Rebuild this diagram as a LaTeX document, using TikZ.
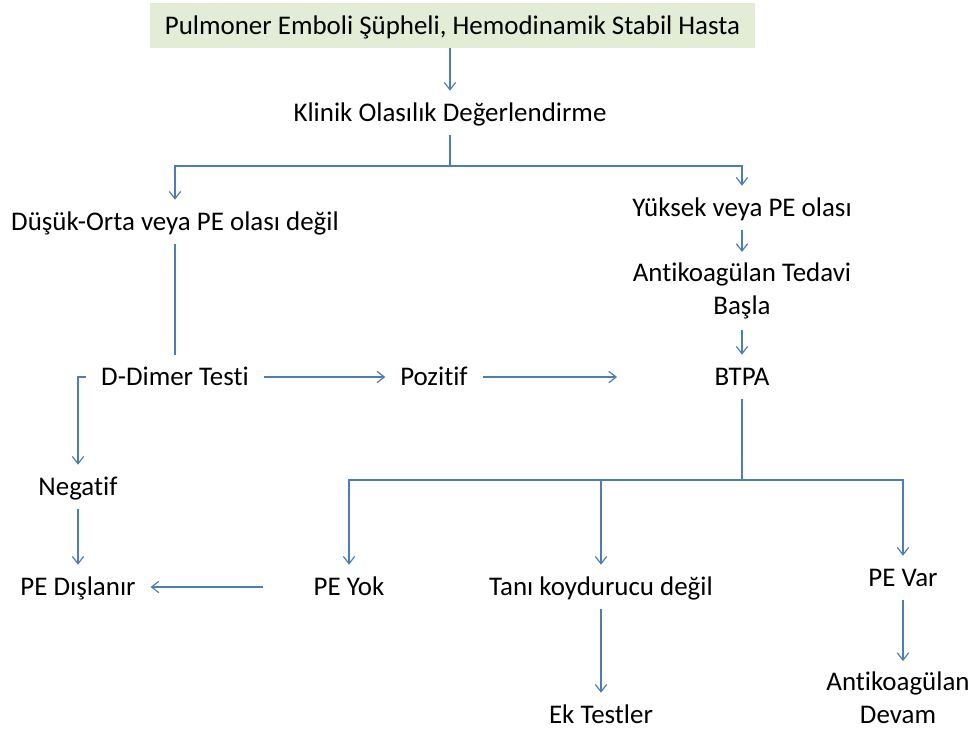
\documentclass[tikz,border=0pt]{standalone}
\usepackage{fontspec}
\setmainfont{Carlito}[RawFeature=-liga]
\usetikzlibrary{arrows.meta,positioning,calc}
\definecolor{FlowBlue}{HTML}{4A7EBB}
\definecolor{StartGreen}{HTML}{E3ECD4}

\begin{document}
\begin{tikzpicture}[
    x=0.75pt, y=-0.75pt,
    lbl/.style={
      font=\fontsize{20.2}{24.75}\selectfont,
      inner xsep=11pt,
      inner ysep=7pt,
      text height=16pt,
      text depth=3pt,
      align=center
    },
    twoline/.style={
      lbl,
      inner ysep=8pt,
      text height={},
      text depth={}
    },
    startbox/.style={
      lbl,
      fill=StartGreen,
      minimum width=453.75pt,
      minimum height=33.75pt
    },
    link/.style={
      line width=0.9pt,
      color=FlowBlue
    },
    arrow/.style={
      link,
      -{Straight Barb[length=5.5pt,width=8.5pt]}
    }
  ]
  \fill[white] (0,0) rectangle (976,729);
  \useasboundingbox (0,0) rectangle (976,729);

  % Start
  \node[startbox] (start) at (452.5,25.5) {Pulmoner Emboli Şüpheli, Hemodinamik Stabil Hasta};
  \node[lbl] (klinik) at (450,113) {Klinik Olasılık Değerlendirme};

  % Clinical probability branches
  \node[lbl] (dusuk)  at (175,222) {Düşük-Orta veya PE olası değil};
  \node[lbl] (yuksek) at (742,208) {Yüksek veya PE olası};
  \node[twoline] (antikoag) at (742,291) {Antikoagülan Tedavi\\Başla};

  % Tests
  \node[lbl] (ddimer)  at (175,377) {D-Dimer Testi};
  \node[lbl] (pozitif) at (434,377) {Pozitif};
  \node[lbl] (btpa)    at (742,377) {BTPA};
  \node[lbl] (negatif) at (78,487)  {Negatif};

  % Outcomes
  \node[lbl] (dislanir) at (78,587)  {PE Dışlanır};
  \node[lbl] (peyok)    at (349,587) {PE Yok};
  \node[lbl] (tani)     at (601,587) {Tanı koydurucu değil};
  \node[lbl] (pevar)    at (903,578) {PE Var};
  \node[lbl] (ektest)   at (601,715) {Ek Testler};
  \node[twoline] (devam) at (898,698) {Antikoagülan\\Devam};

  \coordinate (split1) at (450,166);
  \coordinate (split2) at (742,480);

  % Connectors
  \draw[arrow] (start.south -| klinik) -- (klinik);
  \draw[link]  (klinik) -- (split1);
  \draw[arrow] (split1) -| (dusuk);
  \draw[arrow] (split1) -| (yuksek);
  \draw[arrow] (yuksek) -- (antikoag);
  \draw[arrow] (antikoag) -- (btpa);
  \draw[link]  (dusuk) -- (ddimer);
  \draw[arrow] (ddimer) -- (pozitif);
  \draw[arrow,shorten >=62pt] (pozitif) -- (btpa);
  \draw[arrow] (ddimer.west) -| (negatif);
  \draw[arrow] (negatif) -- (dislanir);
  \draw[link]  (btpa) -- (split2);
  \draw[arrow] (split2) -| (peyok);
  \draw[arrow] (split2) -| (tani);
  \draw[arrow] (split2) -| (pevar);
  \draw[arrow,shorten <=27pt] (peyok) -- (dislanir);
  \draw[arrow] (tani) -- (ektest);
  \draw[arrow] (pevar) -- (pevar |- devam.north);

\end{tikzpicture}
\end{document}
